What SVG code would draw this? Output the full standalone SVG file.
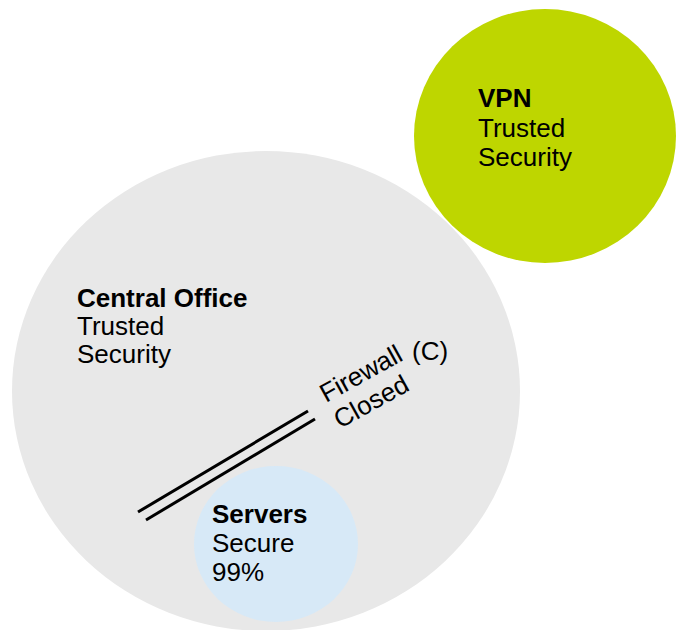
<svg xmlns="http://www.w3.org/2000/svg" width="677" height="630" viewBox="0 0 677 630">
  <style>
    text { font-family: "Liberation Sans", Arial, sans-serif; font-size: 26px; fill: #000; }
    .b { font-weight: bold; }
    .wall { stroke: #000; stroke-width: 3; fill: none; }
  </style>
  <rect width="677" height="630" fill="#fff"/>

  <g id="central-office">
    <ellipse cx="266" cy="391" rx="254" ry="240" fill="#e8e8e8"/>
    <text x="77" y="307" class="b">Central Office</text>
    <text x="77" y="335">Trusted</text>
    <text x="77" y="363">Security</text>
  </g>

  <g id="vpn">
    <ellipse cx="545" cy="136" rx="131" ry="127" fill="#bed600"/>
    <text x="478" y="107" class="b">VPN</text>
    <text x="478" y="137">Trusted</text>
    <text x="478" y="166">Security</text>
  </g>

  <g id="servers">
    <ellipse cx="276" cy="544" rx="82" ry="78" fill="#d7e9f7"/>
    <text x="212" y="523" class="b">Servers</text>
    <text x="212" y="552">Secure</text>
    <text x="212" y="581">99%</text>
  </g>

  <g id="connectors">
    <line class="wall" x1="138" y1="512" x2="308" y2="411"/>
    <line class="wall" x1="146" y1="520" x2="315" y2="419"/>
  </g>

  <g id="firewall">
    <text transform="translate(326,403) rotate(-29)">Firewall</text>
    <text x="412" y="360">(C)</text>
    <text transform="translate(340,429) rotate(-29)">Closed</text>
  </g>
</svg>
